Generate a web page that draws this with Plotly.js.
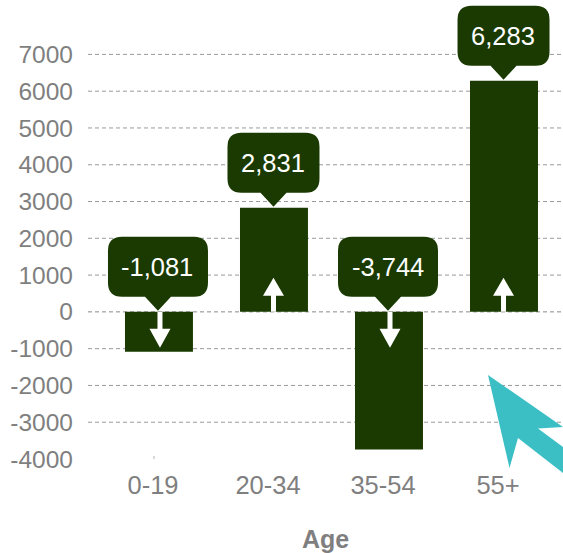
<!DOCTYPE html>
<html>
<head>
<meta charset="utf-8">
<script src="https://cdn.plot.ly/plotly-3.0.1.min.js"></script>
<style>html,body{margin:0;padding:0;background:#fff;overflow:hidden}</style>
</head>
<body>
<div id="chart" style="width:563px;height:553px"></div>
<script>
var categories = ['0-19', '20-34', '35-54', '55+'];
var values = [-1081, 2831, -3744, 6283];
var valueLabels = ['-1,081', '2,831', '-3,744', '6,283'];
var axisTicks = [7000, 6000, 5000, 4000, 3000, 2000, 1000, 0, -1000, -2000, -3000, -4000];
var gridValues = [7000, 6000, 5000, 4000, 3000, 2000, 1000, 0, -1000, -2000, -3000];
var xAxisTitle = 'Age';

var barColor = '#1a3a02', grey = '#7f7f7f', teal = '#3bbfc4';
var FONT = '"Liberation Sans", Arial, sans-serif';
var BAR_SHIFT = 6;

function pixelShape(cat, anchorY, path, color) {
  return {type: 'path', xref: 'x', yref: 'y', xsizemode: 'pixel', ysizemode: 'pixel',
    xanchor: cat, yanchor: anchorY, path: path, fillcolor: color, line: {width: 0}, layer: 'above'};
}
function calloutPath(cx, w, lift) {
  var r = 14, h = 60, tip = 14 + lift, l = cx - w / 2, R = cx + w / 2, b = tip, t = tip + h;
  return 'M' + cx + ',' + lift + ' L' + (cx + 13) + ',' + b + ' L' + (R - r) + ',' + b +
    ' Q' + R + ',' + b + ' ' + R + ',' + (b + r) + ' L' + R + ',' + (t - r) +
    ' Q' + R + ',' + t + ' ' + (R - r) + ',' + t + ' L' + (l + r) + ',' + t +
    ' Q' + l + ',' + t + ' ' + l + ',' + (t - r) + ' L' + l + ',' + (b + r) +
    ' Q' + l + ',' + b + ' ' + (l + r) + ',' + b + ' L' + (cx - 13) + ',' + b + ' Z';
}
function arrowPath(cx, dir) {
  var s = 2.5, hw = 10.5, hb = dir > 0 ? 16 : 17, tip = dir > 0 ? 34 : 36;
  return 'M' + (cx - s) + ',0 L' + (cx - s) + ',' + dir * hb + ' L' + (cx - hw) + ',' + dir * hb +
    ' L' + cx + ',' + dir * tip + ' L' + (cx + hw) + ',' + dir * hb + ' L' + (cx + s) + ',' + dir * hb +
    ' L' + (cx + s) + ',0 Z';
}

var shapes = [], annotations = [];
gridValues.forEach(function (v) {
  shapes.push({type: 'line', xref: 'paper', x0: 0, x1: 1, yref: 'y', y0: v, y1: v, layer: 'below',
    line: {color: v === 0 ? '#8a8a8a' : '#9a9a9a', width: 1, dash: '4px 3px'}});
});
values.forEach(function (v, i) {
  var anchor = v > 0 ? v : 0;
  var neg = v < 0;
  var lift = 1;
  var cx = BAR_SHIFT - 0.5 + (neg ? -0.5 : 0);
  shapes.push(pixelShape(categories[i], anchor, calloutPath(cx, neg ? 100 : 92, lift), barColor));
  shapes.push(pixelShape(categories[i], 0, arrowPath(BAR_SHIFT + (neg ? 1.5 : 0) - 0.5, neg ? -1 : 1), '#ffffff'));
  annotations.push({x: categories[i], y: anchor, xref: 'x', yref: 'y', text: valueLabels[i], showarrow: false,
    xshift: cx - 0.5, yshift: 44 + lift, font: {family: FONT, size: 25.5, color: '#ffffff'}});
});
// x axis title, placed below the plot
annotations.push({xref: 'paper', yref: 'paper', x: 0.499, y: -0.174, yanchor: 'middle', showarrow: false,
  text: '<b>' + xAxisTitle + '</b>', font: {family: FONT, size: 25, color: grey}});
// cursor decoration in the lower right, anchored to the plot's lower right corner
shapes.push({type: 'path', xref: 'paper', yref: 'paper', xsizemode: 'pixel', ysizemode: 'pixel',
  xanchor: 1, yanchor: 0,
  path: 'M-75,84 L0,32 L-25,30.5 L0,12 L0,-14 L-45,21 L-53.5,-9 Z', fillcolor: teal, line: {width: 0}});
// small tick stub below the first category
shapes.push({type: 'line', xref: 'x', yref: 'y', xsizemode: 'pixel', ysizemode: 'pixel',
  xanchor: categories[0], yanchor: -4000, x0: 1, x1: 1, y0: 0, y1: 3, line: {color: '#b0b0b0', width: 1}});

Plotly.newPlot('chart', [{
  type: 'bar', x: categories, y: values,
  marker: {color: barColor, line: {width: 0}},
  width: 0.591, offset: -0.2435,
  hoverinfo: 'skip'
}], {
  width: 563, height: 553,
  margin: {l: 88, r: 0, t: 0, b: 94},
  paper_bgcolor: '#fff', plot_bgcolor: '#fff',
  showlegend: false,
  font: {family: FONT, color: grey, size: 24},
  xaxis: {type: 'category', categoryorder: 'array', categoryarray: categories, range: [-0.565, 3.565],
    showgrid: false, zeroline: false, showline: false, ticks: '', ticklabelstandoff: 8,
    tickfont: {family: FONT, size: 25.5, color: grey}},
  yaxis: {range: [-4000, 8479], tickmode: 'array', tickvals: axisTicks,
    ticktext: axisTicks.map(String),
    showgrid: false, zeroline: false, showline: false, ticks: '', ticklabelstandoff: 14,
    tickfont: {family: FONT, size: 24.5, color: grey}},
  shapes: shapes, annotations: annotations
}, {staticPlot: true, displayModeBar: false});
</script>
</body>
</html>
